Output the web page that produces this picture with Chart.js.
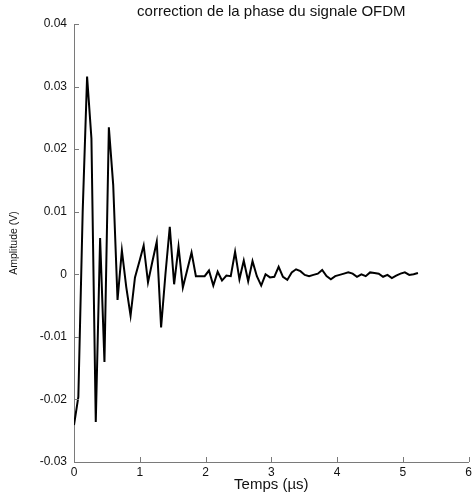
<!DOCTYPE html>
<html>
<head>
<meta charset="utf-8">
<script src="https://cdn.jsdelivr.net/npm/chart.js@4.4.1/dist/chart.umd.min.js"></script>
<style>
  html, body { margin: 0; padding: 0; background: #ffffff; }
  canvas { display: block; }
</style>
</head>
<body>
<canvas id="c" width="475" height="495"></canvas>
<script>
// Sample instants (µs)
const timeUs = [
  0.000, 0.066, 0.132, 0.199, 0.265, 0.331, 0.397, 0.463, 0.530, 0.596,
  0.662, 0.728, 0.794, 0.860, 0.927, 0.993, 1.059, 1.125, 1.191, 1.258,
  1.324, 1.390, 1.456, 1.522, 1.589, 1.655, 1.721, 1.787, 1.853, 1.920,
  1.986, 2.052, 2.118, 2.184, 2.250, 2.317, 2.383, 2.449, 2.515, 2.581,
  2.648, 2.714, 2.780, 2.846, 2.912, 2.979, 3.045, 3.111, 3.177, 3.243,
  3.310, 3.376, 3.442, 3.508, 3.574, 3.640, 3.707, 3.773, 3.839, 3.905,
  3.971, 4.038, 4.104, 4.170, 4.236, 4.302, 4.369, 4.435, 4.501, 4.567,
  4.633, 4.699, 4.766, 4.832, 4.898, 4.964, 5.030, 5.097, 5.163, 5.229
];

// Phase-corrected OFDM signal amplitude (V)
const amplitudeV = [
  -0.0241, -0.0196, 0.0100, 0.0316, 0.0217, -0.0236, 0.0058, -0.0140, 0.0235, 0.0143,
  -0.0041, 0.0038, -0.0020, -0.0066, -0.0005, 0.0020, 0.0046, -0.0013, 0.0020, 0.0052,
  -0.0085, 0.0000, 0.0076, -0.0016, 0.0044, -0.0021, 0.0007, 0.0035, -0.0003, -0.0003,
  -0.0003, 0.0006, -0.0018, 0.0004, -0.0010, -0.0002, -0.0003, 0.0036, -0.0008, 0.0022,
  -0.0011, 0.0021, -0.0003, -0.0018, 0.0000, -0.0005, -0.0004, 0.0012, -0.0004, -0.0009,
  0.0003, 0.0008, 0.0005, -0.0001, -0.0003, -0.0001, 0.0001, 0.0007, -0.0003, -0.0008,
  -0.0003, -0.0001, 0.0001, 0.0003, 0.0001, -0.0004, 0.0000, -0.0003, 0.0003, 0.0002,
  0.0001, -0.0004, -0.0001, -0.0006, -0.0002, 0.0001, 0.0003, -0.0001, 0.0000, 0.0002
];

const xTickValues = [0, 1, 2, 3, 4, 5, 6];
const yTickValues = [-0.03, -0.02, -0.01, 0, 0.01, 0.02, 0.03, 0.04];

const chartTitle = 'correction de la phase du signale OFDM';
const xAxisTitle = 'Temps (µs)';
const yAxisTitle = 'Amplitude (V)';

const axisColor = '#7a7a7a';
const textColor = '#111111';
const fontFamily = '"Liberation Sans", Arial, Helvetica, sans-serif';

// Short tick marks pointing into the plot area
const inwardTicks = {
  id: 'inwardTicks',
  afterDatasetsDraw(chart) {
    const { ctx, chartArea: a, scales: { x, y } } = chart;
    ctx.save();
    ctx.strokeStyle = axisColor;
    ctx.lineWidth = 1;
    ctx.beginPath();
    xTickValues.forEach(v => {
      const px = Math.round(x.getPixelForValue(v)) + 0.5;
      ctx.moveTo(px, a.bottom);
      ctx.lineTo(px, a.bottom - 5);
    });
    yTickValues.forEach(v => {
      const py = Math.round(y.getPixelForValue(v)) + 0.5;
      ctx.moveTo(a.left, py);
      ctx.lineTo(a.left + 5, py);
    });
    ctx.stroke();
    ctx.restore();
  }
};

new Chart(document.getElementById('c'), {
  type: 'line',
  data: {
    datasets: [{
      data: timeUs.map((t, i) => ({ x: t, y: amplitudeV[i] })),
      borderColor: '#000000',
      borderWidth: 2,
      pointRadius: 0,
      tension: 0,
      fill: false
    }]
  },
  options: {
    responsive: false,
    animation: false,
    layout: { padding: { left: 0, right: 4, top: 0, bottom: 0 } },
    plugins: {
      legend: { display: false },
      tooltip: { enabled: false },
      title: {
        display: true,
        text: chartTitle,
        fullSize: false,
        color: textColor,
        font: { family: fontFamily, size: 15, weight: 'normal', lineHeight: 1.2 },
        padding: { top: 2.5, bottom: 3.5 }
      }
    },
    scales: {
      x: {
        type: 'linear',
        min: 0,
        max: 6,
        afterBuildTicks: s => { s.ticks = xTickValues.map(v => ({ value: v })); },
        afterFit: s => { s.height = 33; },
        grid: { display: false, drawTicks: false },
        border: { display: true, color: axisColor, width: 1 },
        ticks: {
          color: textColor,
          padding: 3,
          maxRotation: 0,
          font: { family: fontFamily, size: 12 },
          callback: v => String(v)
        },
        title: {
          display: true,
          text: xAxisTitle,
          color: textColor,
          font: { family: fontFamily, size: 15, lineHeight: 1.2 },
          padding: { top: 0, bottom: 1 }
        }
      },
      y: {
        type: 'linear',
        min: -0.03,
        max: 0.04,
        afterBuildTicks: s => { s.ticks = yTickValues.map(v => ({ value: v })); },
        afterFit: s => { s.width = 74; },
        grid: { display: false, drawTicks: false },
        border: { display: true, color: axisColor, width: 1 },
        ticks: {
          color: textColor,
          padding: 7,
          font: { family: fontFamily, size: 12 },
          callback: v => (Math.abs(v) < 1e-9 ? '0' : Number(v).toFixed(2))
        },
        title: {
          display: true,
          text: yAxisTitle,
          color: textColor,
          font: { family: fontFamily, size: 10.5, lineHeight: 1.2 },
          padding: { top: 7.7, bottom: 0 }
        }
      }
    }
  },
  plugins: [inwardTicks]
});
</script>
</body>
</html>
